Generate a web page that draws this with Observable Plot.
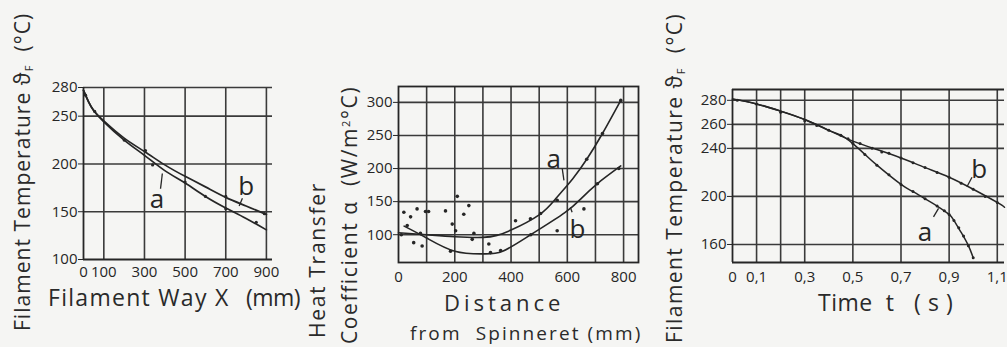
<!DOCTYPE html>
<html><head><meta charset="utf-8">
<script src="https://cdn.jsdelivr.net/npm/d3@7"></script>
<script src="https://cdn.jsdelivr.net/npm/@observablehq/plot@0.6"></script>
<style>
html,body{margin:0;background:#f5f5f3;}
#wrap{position:relative;width:1007px;height:347px;overflow:hidden;font-family:"Open Sans",sans-serif;color:#2a2a2a;}
.panel{position:absolute;top:0;}
.lbl{position:absolute;white-space:pre;font-size:21px;line-height:20px;color:#2a2a2a;}
.big{font-size:23px;}
.huge{font-size:22px;}
.small{font-size:19px;}
.rot{transform-origin:0 0;transform:rotate(-90deg);}
sub{font-size:11px;vertical-align:-3px;line-height:0;}
sup{font-size:11px;vertical-align:7px;line-height:0;}
</style></head>
<body><div id="wrap"></div>
<script>
// ---------- Panel 1: Filament temperature vs filament way ----------
const p1XTicks = [0, 100, 300, 500, 700, 900];
const p1YTicks = [100, 150, 200, 250, 280];
const p1GridX = [100, 300, 500, 700, 900];
const p1GridY = [150, 200, 250, 280];
const p1Way = [0, 25, 50, 100, 200, 300, 400, 500, 600, 700, 800, 900];
const p1A = [277, 265, 256, 244, 225, 209, 193, 180, 166, 154, 143, 131];
const p1B = [277, 265, 256, 245, 227, 213, 199, 187, 176, 165, 156, 147];
const p1DotX = [10, 55, 200, 305, 340, 500, 600, 700, 700, 850, 890];
const p1DotY = [272, 255, 225, 214, 199, 181, 166, 153, 166, 139, 148];
const p1Labels = [{t: "a", x: 362, y: 163}, {t: "b", x: 800, y: 176}];
const p1Leaders = [{x1: 379, y1: 174, x2: 388, y2: 190}, {x1: 782, y1: 164, x2: 766, y2: 156}];

// ---------- Panel 2: Heat transfer coefficient vs distance ----------
const p2XTicks = [0, 200, 400, 600, 800];
const p2YTicks = [100, 150, 200, 250, 300];
const p2GridX = [100, 200, 300, 400, 500, 600, 700, 800];
const p2GridY = [100, 150, 200, 250, 300];
const p2AX = [0, 100, 200, 300, 350, 400, 500, 560, 618, 669, 725, 790];
const p2AY = [103, 100, 97, 96, 99, 107, 130, 155, 184, 214, 253, 303];
const p2BX = [20, 100, 200, 300, 370, 470, 590, 650, 706, 790];
const p2BY = [113, 95, 75, 71, 75, 100, 133, 155, 177, 204];
const p2DotX = [19, 43, 66, 96, 107, 167, 209, 250, 232, 191, 203, 268, 262, 31, 54, 84, 78, 321, 416, 327, 363, 185, 564, 564, 659, 469, 505, 669, 725, 790, 707, 783, 10, 470];
const p2DotY = [134, 127, 139, 135, 135, 136, 158, 144, 131, 116, 106, 102, 93, 114, 88, 83, 102, 86, 121, 73, 76, 75, 152, 106, 139, 124, 132, 214, 253, 303, 177, 200, 100, 100];
const p2Labels = [{t: "a", x: 552, y: 214}, {t: "b", x: 636, y: 108}];
const p2Leaders = [{x1: 582, y1: 200, x2: 588, y2: 182}, {x1: 617, y1: 134, x2: 611, y2: 141}];

// ---------- Panel 3: Filament temperature vs time ----------
const p3XTicks = [0, 0.1, 0.3, 0.5, 0.7, 0.9, 1.1];
const p3YTicks = [160, 200, 240, 260, 280];
const p3GridX = [0.1, 0.2, 0.3, 0.5, 0.7, 0.9, 1.1];
const p3GridY = [160, 200, 240, 260, 280];
const p3AT = [0, 0.1, 0.2, 0.3, 0.4, 0.45, 0.5, 0.55, 0.6, 0.7, 0.75, 0.8, 0.85, 0.9, 0.92, 0.95, 0.98, 1.0];
const p3AY = [281, 277, 271, 264, 255, 251, 244, 235, 226, 210, 204, 198, 192, 185, 180, 170, 159, 149];
const p3BT = [0, 0.1, 0.2, 0.3, 0.4, 0.5, 0.6, 0.7, 0.8, 0.9, 1.0, 1.1, 1.13];
const p3BY = [281, 277, 271, 264, 255, 246, 239, 232, 224, 216, 206, 195, 191];
const p3DotT = [0.02, 0.1, 0.2, 0.3, 0.35, 0.45, 0.5, 0.55, 0.6, 0.65, 0.7, 0.75, 0.8, 0.85, 0.88, 0.9, 0.92, 0.94, 0.96, 0.98, 1.0,
                0.4, 0.48, 0.53, 0.58, 0.62, 0.65, 0.7, 0.75, 0.8, 0.85, 0.9, 0.95, 1.0, 1.05, 1.1];
const p3DotY = [280, 277, 270, 263, 259, 251, 244, 235, 226, 218, 210, 204, 198, 192, 188, 185, 180, 174, 167, 159, 149,
                255, 248, 244, 240, 237, 236, 232, 228, 224, 220, 216, 211, 206, 200, 195];
const p3Labels = [{t: "b", x: 1.025, y: 222}, {t: "a", x: 0.80, y: 170}];
const p3Leaders = [{x1: 0.995, y1: 216, x2: 0.974, y2: 208}, {x1: 0.835, y1: 183, x2: 0.856, y2: 190}];

const INK = "#262626";
const GRID = "#3a3a3a";
const baseStyle = {background: "transparent", fontFamily: "'Open Sans', sans-serif", fontSize: "15px", color: INK, overflow: "visible"};
const zip = (xs, ys) => xs.map((x, i) => ({x, y: ys[i]}));

function place(node, left) {
  const d = document.createElement("div");
  d.className = "panel";
  d.style.left = left + "px";
  d.appendChild(node);
  document.getElementById("wrap").appendChild(d);
}

// Panel 1
place(Plot.plot({
  width: 250, height: 300, marginLeft: 43, marginRight: 18, marginTop: 87, marginBottom: 41,
  style: baseStyle,
  x: {domain: [0, 930], ticks: p1XTicks, tickSize: 0, tickPadding: 7, label: null},
  y: {domain: [100, 280], ticks: p1YTicks, tickSize: 5, tickPadding: 1, label: null},
  marks: [
    Plot.ruleX(p1GridX, {stroke: GRID, strokeWidth: 1.6}),
    Plot.ruleY(p1GridY, {stroke: GRID, strokeWidth: 1.6}),
    Plot.ruleX([0], {stroke: INK, strokeWidth: 1.8}),
    Plot.ruleY([100], {stroke: INK, strokeWidth: 1.8}),
    Plot.line(zip(p1Way, p1A), {x: "x", y: "y", curve: "natural", stroke: INK, strokeWidth: 1.7}),
    Plot.line(zip(p1Way, p1B), {x: "x", y: "y", curve: "natural", stroke: INK, strokeWidth: 1.7}),
    Plot.dot(zip(p1DotX, p1DotY), {x: "x", y: "y", r: 1.6, fill: INK, stroke: null}),
    Plot.link(p1Leaders, {x1: "x1", y1: "y1", x2: "x2", y2: "y2", stroke: INK, strokeWidth: 1.3}),
    Plot.text(p1Labels, {x: "x", y: "y", text: "t", fontSize: 26, fill: INK})
  ]
}), 40);

// Panel 2
place(Plot.plot({
  width: 290, height: 300, marginLeft: 38, marginRight: 12, marginTop: 86, marginBottom: 38,
  style: baseStyle,
  x: {domain: [0, 853], ticks: p2XTicks, tickSize: 0, tickPadding: 9, label: null},
  y: {domain: [58, 324], ticks: p2YTicks, tickSize: 5, tickPadding: 1, label: null},
  marks: [
    Plot.ruleX(p2GridX, {stroke: GRID, strokeWidth: 1.6}),
    Plot.ruleY(p2GridY, {stroke: GRID, strokeWidth: 1.6}),
    Plot.frame({stroke: INK, strokeWidth: 1.8}),
    Plot.line(zip(p2AX, p2AY), {x: "x", y: "y", curve: "natural", stroke: INK, strokeWidth: 1.6}),
    Plot.line(zip(p2BX, p2BY), {x: "x", y: "y", curve: "natural", stroke: INK, strokeWidth: 1.6}),
    Plot.dot(zip(p2DotX, p2DotY), {x: "x", y: "y", r: 1.8, fill: INK, stroke: null}),
    Plot.link(p2Leaders, {x1: "x1", y1: "y1", x2: "x2", y2: "y2", stroke: INK, strokeWidth: 1.3}),
    Plot.text(p2Labels, {x: "x", y: "y", text: "t", fontSize: 26, fill: INK})
  ]
}), 360);

// Panel 3
place(Plot.plot({
  width: 317, height: 300, marginLeft: 42, marginRight: 3, marginTop: 89, marginBottom: 38,
  style: baseStyle,
  x: {domain: [0, 1.13], ticks: p3XTicks, tickSize: 0, tickPadding: 9, label: null,
      tickFormat: d => d === 0 ? "0" : d3.format(".1f")(d).replace(".", ",")},
  y: {domain: [145, 289], ticks: p3YTicks, tickSize: 5, tickPadding: 1, label: null},
  marks: [
    Plot.ruleX(p3GridX, {stroke: GRID, strokeWidth: 1.6}),
    Plot.ruleY(p3GridY, {stroke: GRID, strokeWidth: 1.6}),
    Plot.ruleX([0], {stroke: INK, strokeWidth: 1.8}),
    Plot.ruleY([145, 289], {stroke: INK, strokeWidth: 1.8}),
    Plot.line(zip(p3AT, p3AY), {x: "x", y: "y", curve: "natural", stroke: INK, strokeWidth: 1.5}),
    Plot.line(zip(p3BT, p3BY), {x: "x", y: "y", curve: "natural", stroke: INK, strokeWidth: 1.5}),
    Plot.dot(zip(p3DotT, p3DotY), {x: "x", y: "y", r: 1.5, fill: INK, stroke: null}),
    Plot.link(p3Leaders, {x1: "x1", y1: "y1", x2: "x2", y2: "y2", stroke: INK, strokeWidth: 1.3}),
    Plot.text(p3Labels, {x: "x", y: "y", text: "t", fontSize: 26, fill: INK})
  ]
}), 690);

// ---------- Axis titles (real text) ----------
const titles = [
  {html: "Filament Temperature ϑ<sub>F</sub>  (°C)", rot: true, cx: 22, bottom: 331, len: 318},
  {html: "Filament Way X", rot: false, cls: "big", left: 48, cy: 297, len: 182},
  {html: "(mm)", rot: false, cls: "big", left: 246, cy: 297, len: 54},
  {html: "Heat Transfer", rot: true, cx: 317, bottom: 338, len: 156},
  {html: "Coefficient α  (W/m<sup>2</sup>°C)", rot: true, cx: 349, bottom: 344, len: 258},
  {html: "Distance", rot: false, cls: "huge", left: 444, cy: 302, len: 120},
  {html: "from  Spinneret (mm)", rot: false, cls: "small", left: 410, cy: 333, len: 232},
  {html: "Filament Temperature ϑ<sub>F</sub>  (°C)", rot: true, cx: 674, bottom: 343, len: 330},
  {html: "Time  t   ( s )", rot: false, cls: "big", left: 818, cy: 302, len: 135}
];
const wrap = document.getElementById("wrap");
for (const t of titles) {
  const el = document.createElement("div");
  el.className = "lbl" + (t.rot ? " rot" : "") + (t.cls ? " " + t.cls : "");
  el.innerHTML = t.html;
  wrap.appendChild(el);
  const w = el.offsetWidth;
  const n = el.textContent.length;
  el.style.letterSpacing = ((t.len - w) / n) + "px";
  if (t.rot) {
    el.style.left = (t.cx - 10) + "px";
    el.style.top = t.bottom + "px";
  } else {
    el.style.left = t.left + "px";
    el.style.top = (t.cy - 10) + "px";
  }
}
</script>
</body></html>
